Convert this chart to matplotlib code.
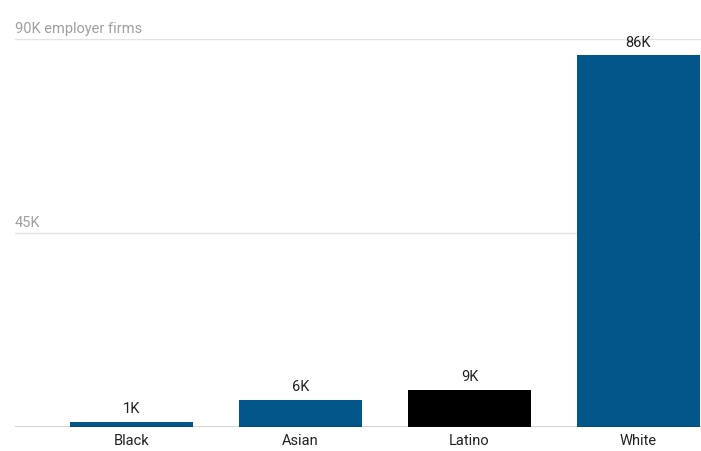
import matplotlib.pyplot as plt

plt.rcParams['font.family'] = ['Roboto', 'DejaVu Sans']

groups = ['Black', 'Asian', 'Latino', 'White']
firms = [1150, 6300, 8600, 86200]
labels = ['1K', '6K', '9K', '86K']
colors = ['#02568a', '#02568a', '#000000', '#02568a']
grid_vals = [45000, 90000]
grid_text = ['45K', '90K employer firms']

fig = plt.figure(figsize=(7.01, 4.51), dpi=100)
ax = fig.add_axes([15 / 701, 1 - 427 / 451, 686 / 701, 388 / 451])

x = range(len(groups))
ax.bar(x, firms, width=0.728, color=colors, zorder=3)
for i, (v, t) in enumerate(zip(firms, labels)):
    ax.annotate(t, (i, v), xytext=(0, 4), textcoords='offset points',
                ha='center', va='bottom', fontsize=10.5, color='#222222')

for g, t in zip(grid_vals, grid_text):
    ax.axhline(g, color='#e3e3e3', lw=1, zorder=1)
    ax.annotate(t, (0, g), xycoords=('axes fraction', 'data'), xytext=(0, 2),
                textcoords='offset points', ha='left', va='bottom',
                fontsize=10.5, color='#a0a0a0')

ax.axhline(0, color='#222222', lw=1, zorder=4)
ax.set_xlim(-0.69, 3.37)
ax.set_ylim(0, 90000)
ax.set_xticks(list(x))
ax.set_xticklabels(groups, fontsize=10.5, color='#222222')
ax.tick_params(axis='x', length=0, pad=5)
ax.set_yticks([])
for s in ax.spines.values():
    s.set_visible(False)

fig.savefig('out.png', dpi=100)
plt.close()
